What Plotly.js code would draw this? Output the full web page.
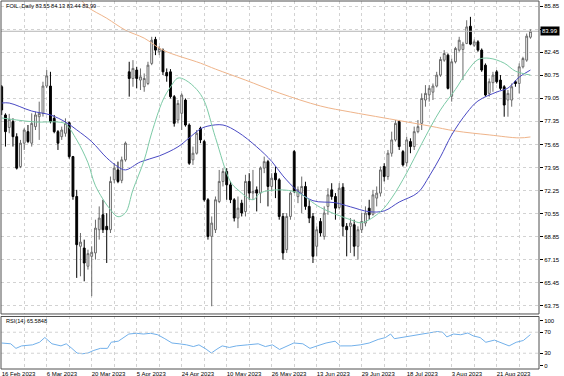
<!DOCTYPE html>
<html><head><meta charset="utf-8">
<script src="https://cdn.plot.ly/plotly-3.0.1.min.js"></script>
<style>html,body{margin:0;padding:0;background:#fff;}#chart{width:564px;height:376px;}</style>
</head><body><div id="chart"></div>
<script>
// ---- OHLC data (daily bars) ----
const open = [
79.90,77.82,76.90,77.33,76.22,74.02,75.74,76.59,75.74,76.96,
77.69,77.94,79.95,79.95,77.57,76.59,76.22,76.47,77.25,74.75,
71.81,68.14,68.01,66.67,67.40,67.65,69.36,70.46,69.61,69.36,
73.04,73.77,73.00,74.51,81.00,80.51,81.13,80.39,79.90,80.14,
81.62,83.39,82.48,82.60,80.95,81.00,79.17,77.45,77.94,78.92,
77.08,74.51,75.00,76.84,75.86,71.57,68.87,69.36,71.44,72.92,
73.65,72.67,71.57,70.22,71.32,70.70,72.92,72.06,72.30,72.06,
73.90,74.38,72.55,73.53,73.04,70.34,67.89,70.34,75.12,71.80,
72.06,72.55,71.08,70.34,68.14,69.97,68.87,71.08,72.30,71.81,
71.00,72.49,69.61,69.61,69.73,68.14,69.36,69.85,70.95,70.50,
71.69,72.06,74.02,73.28,75.00,75.98,77.33,75.12,74.30,75.86,
75.49,76.59,77.20,78.92,79.30,79.50,79.95,80.76,81.86,82.23,
79.20,81.74,82.60,82.65,83.09,84.36,82.96,83.21,82.60,81.49,
79.41,80.20,81.00,80.39,79.90,78.92,78.92,80.27,80.14,81.37,
81.86,83.55];
const high = [
80.02,77.94,77.90,77.57,76.47,75.98,76.84,77.08,77.94,78.06,
78.80,80.27,81.13,81.00,77.82,76.71,76.96,77.57,77.33,74.80,
72.30,69.12,68.63,67.89,68.14,70.10,71.08,71.57,70.59,73.28,
74.26,74.38,74.75,75.86,81.74,81.86,81.37,81.25,80.88,81.74,
83.58,83.58,82.89,82.72,81.25,81.20,79.29,78.92,79.41,79.04,
77.20,75.49,76.71,76.96,75.98,71.69,70.34,71.81,73.77,73.90,
73.90,72.92,71.69,71.81,71.57,73.41,73.53,73.77,72.55,74.02,
74.75,74.51,73.53,74.02,73.16,70.59,70.59,72.18,75.24,72.55,
73.28,72.90,71.57,70.59,69.61,70.22,71.08,72.42,72.79,72.06,
72.79,72.79,69.85,70.22,70.10,69.61,70.59,71.08,71.57,72.30,
72.55,74.02,74.26,75.24,76.59,77.45,77.45,75.24,76.22,76.10,
76.96,77.45,79.41,80.02,80.02,80.14,81.00,82.11,82.60,82.35,
81.98,82.84,83.58,83.21,84.80,85.05,83.38,83.33,82.72,81.62,
80.51,81.00,81.13,80.76,80.02,79.66,80.14,80.39,81.62,82.11,
83.82,84.13];
const low = [
77.82,75.49,76.47,75.49,73.80,73.90,75.24,75.74,75.49,76.71,
75.98,77.70,79.80,77.20,76.47,75.24,75.98,76.22,74.60,71.57,
65.81,65.93,65.56,66.42,64.46,67.16,68.63,69.12,66.91,69.12,
72.79,72.79,72.79,74.38,79.17,79.90,79.78,79.66,79.53,80.02,
81.49,82.23,82.23,80.76,80.27,79.04,76.96,77.20,76.71,76.96,
74.14,74.14,74.90,75.74,71.44,68.63,63.72,69.12,71.32,72.55,
71.57,71.32,69.97,69.48,70.34,70.34,71.57,71.57,70.71,71.32,
73.53,71.08,72.18,71.69,70.10,67.16,67.65,70.10,72.06,71.32,
70.59,70.83,69.85,66.91,67.40,68.87,68.63,70.46,71.57,70.10,
70.85,68.87,67.40,67.65,67.40,67.16,69.12,69.61,70.10,70.40,
71.08,71.81,72.92,73.04,74.75,75.86,75.24,74.02,74.02,75.00,
75.24,76.47,76.71,78.43,78.80,78.92,79.85,80.63,81.74,79.70,
78.80,81.62,82.48,80.39,83.04,82.96,82.84,82.48,81.00,79.17,
79.17,79.53,80.14,79.66,77.69,77.69,78.43,79.90,79.41,81.25,
81.74,83.44];
const close = [
78.19,76.59,77.50,76.22,73.90,75.74,76.71,75.86,77.20,77.82,
77.94,79.95,80.70,77.33,76.59,75.74,76.71,77.20,74.75,71.81,
68.26,68.45,66.91,67.60,67.70,69.48,70.22,69.36,69.36,72.92,
73.90,72.92,74.51,75.74,80.51,81.25,80.51,80.63,80.51,81.49,
83.33,82.60,82.72,81.00,80.70,79.17,77.20,78.67,79.29,77.08,
74.26,75.00,76.47,75.98,71.57,68.87,69.85,71.57,72.92,73.65,
72.67,71.57,70.22,70.95,70.59,72.92,72.06,72.18,72.06,73.90,
74.38,72.55,73.16,73.04,70.34,67.65,70.34,72.06,72.18,72.30,
72.55,71.08,70.22,67.40,69.36,69.12,70.59,71.93,71.81,70.95,
72.42,69.61,69.36,69.85,68.14,69.36,69.97,70.59,70.46,71.93,
72.06,73.77,73.28,75.00,75.98,77.20,75.49,74.14,75.98,75.49,
76.59,76.96,79.04,79.41,79.78,79.95,80.76,81.91,82.35,79.78,
81.74,82.72,83.33,83.04,84.31,83.04,83.21,82.60,81.13,79.29,
80.27,80.76,80.27,79.78,78.55,79.41,79.90,80.14,81.37,81.98,
83.63,83.99];

// ---- moving averages (read at sample bars) ----
const maFastBars = [0,4,9,15,17,20,23,25,29,31,33,35,38,40,43,45,47,49,52,54,57,61,63,67,69,74,79,85,93,96,101,104,108,112,117,121,124,127,130,134,137,141];
const maFastVals = [77.60,77.45,77.30,77.30,77.16,75.98,74.30,72.60,70.83,70.32,70.61,72.30,74.50,76.50,78.92,79.88,80.54,80.39,79.70,78.85,76.15,72.90,72.30,71.57,72.08,72.30,72.08,71.00,70.10,69.88,70.69,71.70,73.55,75.70,78.19,79.70,80.98,81.90,82.00,81.64,81.05,80.76];
const maSlowBars = [0,2,8,13,17,20,24,28,31,33,37,42,47,50,53,55,59,63,68,72,75,79,83,89,93,98,102,106,111,114,117,120,124,127,132,135,138,141];
const maSlowVals = [78.70,78.70,78.11,77.82,77.30,76.72,75.85,74.66,74.00,73.77,74.36,74.80,75.47,76.13,76.79,77.00,77.08,76.55,75.47,74.40,73.33,72.20,71.50,71.35,71.05,70.69,70.75,71.40,72.10,73.30,74.73,76.35,77.97,78.85,79.51,79.80,80.61,81.13];
const ma200Bars = [21,23,28,33,38,43,53,57,65,74,85,93,102,114,121,130,138,141];
const ma200Vals = [86.35,85.76,84.95,84.07,83.48,82.60,81.64,81.20,80.39,79.44,78.48,78.04,77.60,77.01,76.64,76.35,76.13,76.20];

// ---- RSI(14) (read at sample bars) ----
const rsiBars = [0,2.4,3.8,5.3,8.2,10.1,11.5,13.4,15.8,17.2,18.7,20.1,21.5,23,24.4,26.3,28.2,29.2,31.1,32.5,33.9,35.9,37.8,39.7,41.6,43.5,45.4,47.3,49.3,51.1,52.6,54.5,55.9,57.4,58.8,60.7,62.6,65.5,68.4,70.3,72.2,74.1,76,77.9,80.3,82.2,84.1,86.5,88.9,90.3,93.2,95.6,98,100.4,102.3,103.7,104.7,106.6,109.5,112.3,114.2,116.2,117.6,118.7,120.5,122.4,124.3,125.7,127.6,129.1,131.4,133.8,135.3,137.2,139.1,141];
const rsiVals = [49.5,48,39.3,44,46,51,60,48,44,48,39.3,30.4,29,30.4,35,39.3,39.3,51,53,60,66.6,68,66.6,68,65.2,57.7,49.5,48,46,42.7,46,37.9,30.4,37.9,44,41,44,46,48,42.7,46,37.2,44,49.5,48,39.3,44,49.5,52.9,44,44,46,49.5,56.3,59.8,66.6,57.7,59.8,63.2,66.6,68.6,71.4,70,61.1,66.6,65.2,68.6,63.2,59.8,50.9,55,48.1,44,50.9,54.3,65.58];

// ---- axis labels ----
const dateTickBars = [0,12,24,36,48,60,72,84,96,108,120,132];
const dateTickLabels = ['16 Feb 2023','6 Mar 2023','20 Mar 2023','5 Apr 2023','24 Apr 2023','10 May 2023','26 May 2023','13 Jun 2023','29 Jun 2023','18 Jul 2023','3 Aug 2023','21 Aug 2023'];
const priceTicks = [85.85,84.15,82.45,80.75,79.05,77.35,75.65,73.95,72.25,70.55,68.85,67.15,65.45,63.75];
const priceTickText = ['85.85','','82.45','80.75','79.05','77.35','75.65','73.95','72.25','70.55','68.85','67.15','65.45','63.75'];
const lastPrice = 83.99;
const headerText = 'FOIL.,Daily 83.55 84.13 83.44 83.99';
const rsiText = 'RSI(14) 65.5848';

const barIndex = open.map((_, i) => i);
const gridVals = [], gridText = [];
for (let b = 0; b <= 138; b += 6) {
  gridVals.push(b);
  const k = dateTickBars.indexOf(b);
  gridText.push(k >= 0 ? dateTickLabels[k] : '');
}

const FONT = 'Liberation Sans, Arial, sans-serif';
const GRID = '#d2d2d2';
const xr = [-0.19, 143.28];
const mainDom = [0.1495, 1];
const rsiDom = [0, 0.1427];

const traces = [
  {type:'candlestick', x:barIndex, open:open, high:high, low:low, close:close,
   xaxis:'x', yaxis:'y', whiskerwidth:0, hoverinfo:'skip',
   increasing:{line:{color:'#6a6a6a', width:1}, fillcolor:'#ffffff'},
   decreasing:{line:{color:'#000000', width:1}, fillcolor:'#000000'}},
  {type:'scatter', mode:'lines', x:ma200Bars, y:ma200Vals, xaxis:'x', yaxis:'y',
   line:{color:'#efb48a', width:1, shape:'spline'}, hoverinfo:'skip'},
  {type:'scatter', mode:'lines', x:maSlowBars, y:maSlowVals, xaxis:'x', yaxis:'y',
   line:{color:'#4a4ac4', width:1, shape:'spline'}, hoverinfo:'skip'},
  {type:'scatter', mode:'lines', x:maFastBars, y:maFastVals, xaxis:'x', yaxis:'y',
   line:{color:'#7ccaa6', width:1, shape:'spline'}, hoverinfo:'skip'},
  {type:'scatter', mode:'lines', x:rsiBars, y:rsiVals, xaxis:'x2', yaxis:'y2',
   line:{color:'#72b0ea', width:1}, hoverinfo:'skip'}
];

const layout = {
  width:564, height:376,
  margin:{l:1, r:25, t:1, b:7},
  paper_bgcolor:'#ffffff', plot_bgcolor:'#ffffff',
  showlegend:false,
  font:{family:FONT, size:6, color:'#000'},
  xaxis:{domain:[0,1], anchor:'y', range:xr, tickvals:gridVals, showticklabels:false, ticks:'',
         showgrid:true, gridcolor:GRID, griddash:'dot', gridwidth:1, zeroline:false, showline:false,
         rangeslider:{visible:false}, fixedrange:true},
  xaxis2:{domain:[0,1], anchor:'y2', range:xr, tickvals:gridVals, ticktext:gridText, ticks:'',
         ticklabelposition:'outside right', tickfont:{family:FONT, size:6, color:'#000'},
         showgrid:true, gridcolor:GRID, griddash:'dot', gridwidth:1, zeroline:false, showline:false,
         fixedrange:true},
  yaxis:{domain:mainDom, anchor:'x', side:'right', range:[63.15, 86.22],
         tickvals:priceTicks, ticktext:priceTickText, ticks:'outside', ticklen:3, tickcolor:'#000',
         tickfont:{family:FONT, size:6, color:'#000'},
         showgrid:true, gridcolor:GRID, griddash:'dot', gridwidth:1, zeroline:false, showline:false, fixedrange:true},
  yaxis2:{domain:rsiDom, anchor:'x2', side:'right', range:[0,100],
         tickvals:[92,70,30,6.5], ticktext:['100','70','30','0'], ticks:'outside', ticklen:3, tickcolor:'#000',
         tickfont:{family:FONT, size:6, color:'#000'},
         showgrid:false, zeroline:false, showline:false, fixedrange:true},
  shapes:[
    {type:'line', xref:'paper', yref:'y', x0:0, x1:1, y0:lastPrice, y1:lastPrice, line:{color:'#b4b4b4', width:1}},
    {type:'line', xref:'paper', yref:'y2', x0:0, x1:1, y0:70, y1:70, line:{color:GRID, width:1, dash:'dot'}},
    {type:'line', xref:'paper', yref:'y2', x0:0, x1:1, y0:30, y1:30, line:{color:GRID, width:1, dash:'dot'}},
    {type:'rect', xref:'paper', yref:'paper', x0:0, x1:1, y0:mainDom[0], y1:mainDom[1], line:{color:'#505050', width:1}},
    {type:'rect', xref:'paper', yref:'paper', x0:0, x1:1, y0:rsiDom[0], y1:rsiDom[1], line:{color:'#505050', width:1}}
  ],
  annotations:[
    {xref:'paper', yref:'paper', x:0.005, y:1, xanchor:'left', yanchor:'top', text:headerText, showarrow:false,
     font:{family:FONT, size:5.6, color:'#000'}},
    {xref:'paper', yref:'paper', x:0.005, y:rsiDom[1], xanchor:'left', yanchor:'top', text:rsiText, showarrow:false,
     font:{family:FONT, size:5.6, color:'#000'}},
    {xref:'paper', yref:'y', x:1, y:lastPrice, xanchor:'left', yanchor:'middle', xshift:1, text:'83.99', showarrow:false,
     bgcolor:'#000000', borderpad:1, font:{family:FONT, size:6, color:'#ffffff'}}
  ]
};

Plotly.newPlot('chart', traces, layout, {staticPlot:true, displayModeBar:false});
</script>
</body></html>
